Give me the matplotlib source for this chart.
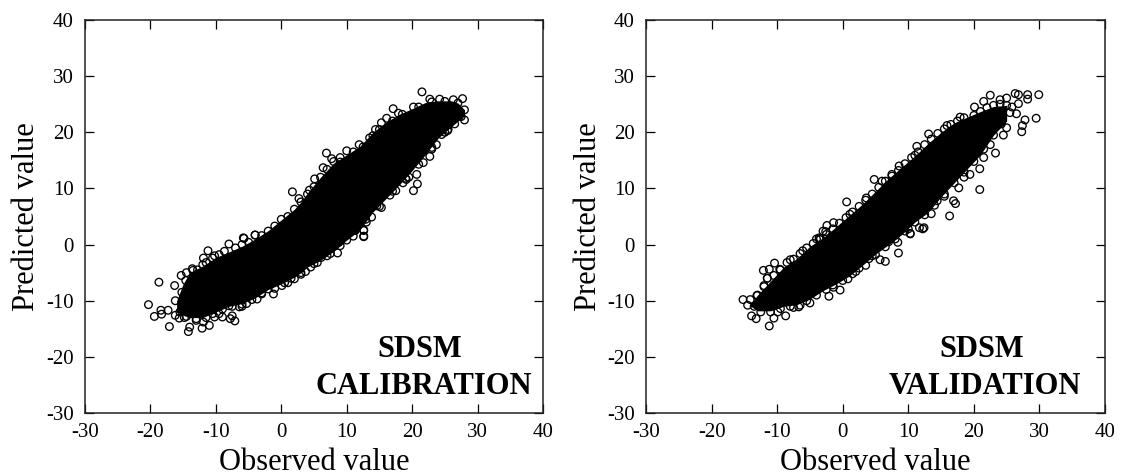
import matplotlib
matplotlib.use("Agg")
import matplotlib.pyplot as plt

plt.rcParams['font.family'] = ['Liberation Serif']
plt.rcParams['axes.unicode_minus'] = False

cal_band_x = [-16, -15, -14, -12, -10, -8, -6, -4, -2, 0, 2, 3, 4, 6, 8, 10, 12, 14, 16, 18, 20, 22, 24, 26, 27, 28]
cal_band_up = [-10, -7, -5, -3.8, -2.3, -1.3, -0.3, 1, 2.5, 4.4, 6.3, 7.6, 9.2, 12, 14.5, 16, 17.5, 20, 21.8, 23.2, 24.2, 25.3, 25.6, 25.6, 25.2, 24]
cal_band_lo = [-12, -12.6, -13, -13, -12, -11, -10.5, -9.5, -8, -7, -5.8, -5, -4, -2.8, -1.2, 0.8, 2.6, 5.8, 8.2, 10.6, 13.2, 16, 19, 21, 22, 23]

val_band_x = [-14, -13, -11, -9, -7, -5, -3, -1, 1, 3, 5, 7, 9, 11, 13, 15, 17, 19, 21, 23, 25]
val_band_up = [-10.5, -9, -6.5, -4, -2.5, -0.3, 1.2, 3.2, 5.2, 7.2, 9.5, 11.8, 13.8, 15.8, 18, 20, 21.7, 22.7, 23.7, 24.6, 24.8]
val_band_lo = [-11, -11.8, -11.8, -11, -10.7, -9.7, -8.2, -7, -5.6, -3.7, -1.7, 0, 1.8, 4, 5.7, 8.5, 11, 13.5, 16, 19.5, 22]

# points that stand clear of the solid part
cal_obs = [-20.3, -18.7, -19.4, -18.4, -18.3, -17.3, -17.1, -16.3, -16.2, -16.2, -15.6, -14.2, -14, -12.1, -11,
           -11.9, -9, -7.5, -7.1, -7.8, -11.2, -11.9, -8, -5.7, -4, -1.2, 2, 3.7, 8.6, 12.6, 12.6, 11.3,
           -13.5, -14.6, -10.2, -3.7, -5.3, -6.4, -8, -10.2, 0.1, -2, 4.5, 6.1, 8.8,
           21.5, 22.7, 27.7, 28, 28, 25.4, 20.2, 20.8, 20.7, 19.1, 21.7, 17.1, 17.9, 16.1, 15.3, 14.4, 11.9, 10,
           6.9, 7.7, 5.1, 4.3, 1.7, 2.7, -5.8, -4, 16.6, 15.3, 12.9, 12.6, 12.6, 11.2, 23.7, 24.5, 22.7,
           20.2, 26.3, 24.2, 6.4, 9, 14, 18.6, 14.6,
           -15.2, -15, -14.8, -13, -12, -9.5, -6, -3, 1, 3, 5.5, 7.5, 10, 13.8, 17.5, 19.5, 23, 25.5, 27.2]
cal_pred = [-10.7, -6.7, -12.8, -11.7, -12.4, -11.7, -14.6, -7.3, -10, -12.6, -13.1, -15.5, -14.7, -14.9, -14.4,
            -13.8, -12.9, -12.7, -13.6, -13.2, -1.1, -2.4, 0.1, 1.1, 1.7, -8.8, -6.1, -4.8, -1.5, 1.5, 2.5, 2.5,
            -4.6, -6.4, -2, -9.7, -10.5, -11.1, -10.9, -12.9, -7.3, -7.9, -4, -2.3, 0.4,
            27.2, 25.9, 26, 24, 22.2, 20.3, 9.6, 10.8, 12.5, 11.6, 14.6, 24.2, 23.4, 22.5, 21.7, 20.5, 17.8, 16.7,
            16.3, 15.3, 11.7, 9.7, 9.4, 8.2, 1.2, 1.7, 8.8, 6.6, 4.5, 2.6, 1.4, 2.7, 17.8, 19.6, 15.7,
            24.5, 25.8, 25.9, 13.7, 14.7, 19.4, 11, 6.9,
            -8.5, -11.5, -13, -13.5, -3.6, -12.3, -11, -8.6, -6.8, -5.3, -3.2, -1.6, 0.8, 4.9, 9.6, 12, 17, 20.5, 22.8]

# points sitting on the edge of the solid part
cal_edge_obs = [-15.3, -14.5, -13.6, -12.8, -11.5, -10.5, -9.5, -8.7, -7, -6, -5, -3, -2, -1, 0, 1, 2, 3, 4, 5, 6, 7,
                8, 9, 11, 12.5, 13.5, 15, 17, 18.5, 21, 23, 25, 27,
                -15.5, -14.5, -13, -11.5, -10.5, -9, -7.5, -6, -4.5, -3, -1, 0.5, 1.5, 3, 5, 7, 9, 11, 13, 15, 17,
                19, 21, 23, 25, 26.5, 27.5]
cal_edge_pred = [-5.5, -5, -4.3, -4.5, -3.2, -2.4, -1.8, -1.2, -0.6, 0, 0.4, 1.6, 2.4, 3.3, 4.5, 5, 6.3, 7.6, 9, 10.3,
                 12, 13.4, 14.8, 15.5, 16.5, 17.4, 19, 20.5, 22, 23.2, 24.5, 25.4, 25.5, 25.2,
                 -12, -12.8, -13.2, -13, -12.3, -11.5, -11, -10.6, -9.8, -8.8, -7.8, -6.8, -6, -5, -3.4, -2, -0.2,
                 1.5, 4, 6.8, 9.5, 11.8, 14.3, 17.3, 20, 21.5, 22.8]

val_obs = [29.9, 29.5, 27.8, 27.4, 27.3, 28.2, 28.2, 26.8, 26.3, 26.8, 26.5, 25, 24, 22.5, 21.5, 20.1, 17.9, 15.9,
           13.1, 11.3, 11, 8.6, 7.5, 6, 4.8, 3.6, 0.6, 1.1, -1.4, -2.4, -3, -3.6, 23.3, 22.5, 20.9, 20.9, 17.7,
           16.9, 17.2, 16.3, 14.4, 12.4, 11.7, 10.3, 9.3, 19.4, 25,
           -15.2, -14.1, -13.9, -13.2, -11.2, -10.5, -8.7, -10.4, -12.1, -11.2, -9.6, -8, -2.1, -0.4, -1.4, -5, -6.7,
           0.8, 3.5, 6.5, 5.7, 8.5, 8.4, 10.3, 12.2, -6.1, -3.4, -2.6, -12, -13.1, -9.9,
           -14.5, -12.5, -11.5, -7.5, -4, 2, 4.5, 7, 10, 13.5, 15.5, 18.5, 21.5, 24.5, 25.8]
val_pred = [26.7, 22.5, 22.2, 21.2, 20.1, 26.7, 25.9, 26.7, 26.9, 25.1, 23.3, 26.1, 25.8, 26.6, 25.5, 24.5, 22.7, 21.2,
            19.7, 17.5, 15.9, 14, 12.5, 11.3, 11.6, 8.3, 7.6, 5.4, 3.9, 3.4, 2.4, 1.2, 16.3, 17.8, 13.5, 9.8, 10.1,
            7.8, 7.3, 5.1, 7.8, 3, 3, 2, 3.3, 12.5, 20.8,
            -9.8, -9.8, -12.7, -13.2, -14.5, -13.1, -12.7, -3.3, -4.6, -4.4, -4.4, -2.7, -9.2, -8.1, -7.6, -10.4, -11.1,
            -6.1, -3.7, -3, -2.7, -1.5, 0.4, 1.9, 2.8, -1.1, 1.1, 2.3, -7.3, -9.1, -12,
            -10.8, -11, -6, -11.2, 1, -4.8, -2, 0.5, 2.8, 5.5, 8.6, 12, 15.5, 19.5, 24.5]

val_edge_obs = [-13, -12, -11.5, -10.5, -9.5, -8.5, -7.5, -6.5, -5.5, -4.5, -3.5, -2.5, -1.5, -0.5, 0.5, 1.5, 2.5, 3.5,
                4.5, 5.5, 6.5, 7.5, 8.5, 9.5, 10.5, 11.5, 12.5, 13.5, 14.5, 15.5, 16.5, 17.5, 18.5, 20, 21, 22, 23, 24, 25,
                -13.5, -12.5, -11, -9.5, -8, -6.5, -5.5, -4, -2.5, -1.5, 0, 1.5, 2.5, 4, 5, 6.5, 8, 9.5, 11, 12.5,
                14, 15.5, 17, 18.5, 20, 21.5, 23, 24.2, 25.5]
val_edge_pred = [-9, -7.5, -6, -5.5, -4.5, -3.2, -2.6, -1.6, -0.6, 0.2, 0.9, 1.8, 2.8, 3.8, 4.8, 5.8, 6.8, 7.9,
                 9, 10.2, 11.3, 12.2, 13.2, 14.4, 15.5, 16.5, 17.8, 18.8, 19.8, 20.6, 21.4, 22, 22.6, 23, 23.7, 24.4, 24.8, 25, 24.8,
                 -11, -12, -12, -11.4, -11, -10.8, -10, -9, -8, -7.2, -6.4, -5.2, -4.2, -2.5, -1.8, -0.4, 1, 2.4, 4, 5.3,
                 7, 9, 11, 12.9, 14.8, 17, 19.5, 21.5, 23.5]

ticks = [-30, -20, -10, 0, 10, 20, 30, 40]
W, H = 1123, 475


def panel(left, right, band_x, band_lo, band_up, obs, pred, edge_obs, edge_pred, name, name_x, label_x):
    ax = fig.add_axes([left / W, 1 - 413 / H, (right - left) / W, 393 / H])
    ax.fill_between(band_x, band_lo, band_up, color="black", lw=0)
    ax.scatter(obs + edge_obs, pred + edge_pred, s=30, facecolors="none", edgecolors="black", linewidths=0.95)
    ax.set_xlim(-30, 40)
    ax.set_ylim(-30, 40)
    ax.set_xticks(ticks)
    ax.set_yticks(ticks)
    ax.tick_params(direction="in", length=6.5, width=0.9, top=True, right=True, labelsize=15)
    ax.tick_params(axis="x", pad=7)
    ax.tick_params(axis="y", pad=8)
    for s in ax.spines.values():
        s.set_linewidth(1.1)
        s.set_color("#222222")
    ax.text(21.2, -18.7, "SDSM", fontsize=22, fontweight="bold", ha="center", va="center")
    ax.text(name_x, -25.3, name, fontsize=22, fontweight="bold", ha="center", va="center")
    fig.text((left + right) / 2 / W, 1 - 462 / H, "Observed value", fontsize=22, ha="center", va="center")
    fig.text(label_x / W, 1 - 217 / H, "Predicted value", fontsize=22, rotation=90, ha="center", va="center")
    return ax


fig = plt.figure(figsize=(W / 100, H / 100), dpi=100)
panel(85, 543, cal_band_x, cal_band_lo, cal_band_up, cal_obs, cal_pred, cal_edge_obs, cal_edge_pred, "CALIBRATION", 21.7, 27)
panel(646, 1105, val_band_x, val_band_lo, val_band_up, val_obs, val_pred, val_edge_obs, val_edge_pred, "VALIDATION", 21.7, 588)
fig.savefig("out.png", dpi=100)
